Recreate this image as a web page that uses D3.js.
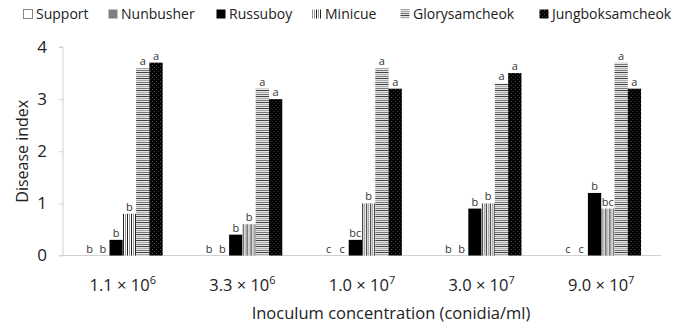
<!DOCTYPE html>
<html>
<head>
<meta charset="utf-8">
<script src="https://cdn.jsdelivr.net/npm/d3@7"></script>
<style>
  body { margin: 0; background: #fff; }
  text { font-family: "Open Sans", "Noto Sans", sans-serif; }
</style>
</head>
<body>
<script>
// data
const concentrations = ["1.1|6", "3.3|6", "1.0|7", "3.0|7", "9.0|7"];
const cultivars = ["Support", "Nunbusher", "Russuboy", "Minicue", "Glorysamcheok", "Jungboksamcheok"];
const support = [0, 0, 0, 0, 0];
const nunbusher = [0, 0, 0, 0, 0];
const russuboy = [0.3, 0.4, 0.3, 0.9, 1.2];
const minicue = [0.8, 0.6, 1.0, 1.0, 0.9];
const glorysamcheok = [3.6, 3.2, 3.6, 3.3, 3.7];
const jungboksamcheok = [3.7, 3.0, 3.2, 3.5, 3.2];
const letters = [
    ["b", "b", "b", "b", "a", "a"],
    ["b", "b", "b", "b", "a", "a"],
    ["c", "c", "bc", "b", "a", "a"],
    ["b", "b", "b", "b", "a", "a"],
    ["c", "c", "b", "bc", "a", "a"]
];
const yTicks = [0, 1, 2, 3, 4];

const seriesValues = [support, nunbusher, russuboy, minicue, glorysamcheok, jungboksamcheok];

const W = 683, H = 328;
const margin = {left: 63, right: 22, top: 47, bottom: 72};

const svg = d3.select("body").append("svg")
    .attr("width", W)
    .attr("height", H);

// patterns
const defs = svg.append("defs");
let p = defs.append("pattern").attr("id", "pat-mini")
    .attr("patternUnits", "userSpaceOnUse").attr("width", 4).attr("height", 4);
p.append("rect").attr("width", 4).attr("height", 4).attr("fill", "#fff");
p.append("rect").attr("x", 0).attr("width", 1).attr("height", 4).attr("fill", "#222");
p.append("rect").attr("x", 2).attr("width", 1).attr("height", 4).attr("fill", "#999");

p = defs.append("pattern").attr("id", "pat-glory")
    .attr("patternUnits", "userSpaceOnUse").attr("width", 4).attr("height", 6);
p.append("rect").attr("width", 4).attr("height", 6).attr("fill", "#e4e4e4");
p.append("rect").attr("y", 0).attr("width", 4).attr("height", 1).attr("fill", "#444");
p.append("rect").attr("y", 2).attr("width", 4).attr("height", 1).attr("fill", "#aaa");
p.append("rect").attr("y", 4).attr("width", 4).attr("height", 1).attr("fill", "#777");

p = defs.append("pattern").attr("id", "pat-jung")
    .attr("patternUnits", "userSpaceOnUse").attr("width", 4).attr("height", 4);
p.append("rect").attr("width", 4).attr("height", 4).attr("fill", "#000");
p.append("rect").attr("x", 1).attr("y", 1).attr("width", 1).attr("height", 1).attr("fill", "#555");
p.append("rect").attr("x", 3).attr("y", 3).attr("width", 1).attr("height", 1).attr("fill", "#444");

const fills = ["#fff", "#808080", "#000", "url(#pat-mini)", "url(#pat-glory)", "url(#pat-jung)"];
const strokes = ["#999", "none", "none", "none", "none", "none"];

const x0 = d3.scaleBand()
    .domain(concentrations)
    .range([margin.left, W - margin.right])
    .padding(0);

const x1 = d3.scaleBand()
    .domain(cultivars)
    .range([0, x0.bandwidth()])
    .paddingInner(0)
    .paddingOuter(1.5);

const y = d3.scaleLinear()
    .domain([0, 4])
    .range([H - margin.bottom - 0.5, margin.top]);

// y axis
const yAxis = svg.append("g")
    .attr("transform", `translate(${margin.left},0)`)
    .call(d3.axisLeft(y).tickValues(yTicks).tickSize(4).tickPadding(12).tickFormat(d3.format("d")));
yAxis.select(".domain").attr("stroke", "#d0d0d0").attr("d", `M-4,${y(4)}H0V${y(0)}H-4`);
yAxis.selectAll(".tick line").attr("stroke", "#d0d0d0");
yAxis.selectAll(".tick text")
    .attr("fill", "#222")
    .style("font-size", "17px")
    .style("font-family", "'Open Sans', sans-serif");

// baseline
svg.append("line")
    .attr("x1", margin.left).attr("x2", W - margin.right)
    .attr("y1", y(0)).attr("y2", y(0))
    .attr("stroke", "#d0d0d0");

// bars
const groups = svg.selectAll("g.grp")
    .data(concentrations)
    .join("g")
    .attr("class", "grp")
    .attr("transform", d => `translate(${x0(d)},0)`);

groups.each(function(c, gi) {
    const g = d3.select(this);
    cultivars.forEach((cv, si) => {
        const v = seriesValues[si][gi];
        if (v > 0) {
            g.append("rect")
                .attr("x", x1(cv))
                .attr("y", y(v))
                .attr("width", x1.bandwidth())
                .attr("height", y(0) - y(v))
                .attr("fill", fills[si])
                .attr("stroke", strokes[si]);
        }
        g.append("text")
            .attr("x", x1(cv) + x1.bandwidth() / 2)
            .attr("y", y(v) - 3)
            .attr("text-anchor", "middle")
            .attr("fill", "#333")
            .style("font-size", "11px")
            .text(letters[gi][si]);
    });
});

// x tick labels with superscript
const xl = svg.append("g");
concentrations.forEach(c => {
    const [m, e] = c.split("|");
    const t = xl.append("text")
        .attr("x", x0(c) + x0.bandwidth() / 2)
        .attr("y", 291)
        .attr("text-anchor", "middle")
        .attr("fill", "#222")
        .style("font-size", "16.5px");
    t.append("tspan").text(`${m} × 10`);
    t.append("tspan").attr("dy", -7).style("font-size", "11px").text(e);
});

// axis titles
svg.append("text")
    .attr("x", 391).attr("y", 319)
    .attr("text-anchor", "middle")
    .attr("fill", "#222")
    .style("font-size", "16.5px")
    .text("Inoculum concentration (conidia/ml)");

svg.append("text")
    .attr("transform", `translate(22,${y(2)}) rotate(-90)`)
    .attr("text-anchor", "middle")
    .attr("dy", "0.35em")
    .attr("fill", "#222")
    .style("font-size", "16px")
    .text("Disease index");

// legend
const legendX = [23, 108, 216, 312, 400, 539];
const legend = svg.append("g");
cultivars.forEach((cv, i) => {
    const lg = legend.append("g").attr("transform", `translate(${legendX[i]},9)`);
    lg.append("rect")
        .attr("x", 0.5).attr("y", 0.5)
        .attr("width", 9).attr("height", 9)
        .attr("fill", fills[i])
        .attr("stroke", i === 0 ? "#888" : "none");
    lg.append("text")
        .attr("x", 13).attr("y", 5)
        .attr("dy", "0.35em")
        .attr("fill", "#222")
        .style("font-size", "14px")
        .text(cv);
});
</script>
</body>
</html>
